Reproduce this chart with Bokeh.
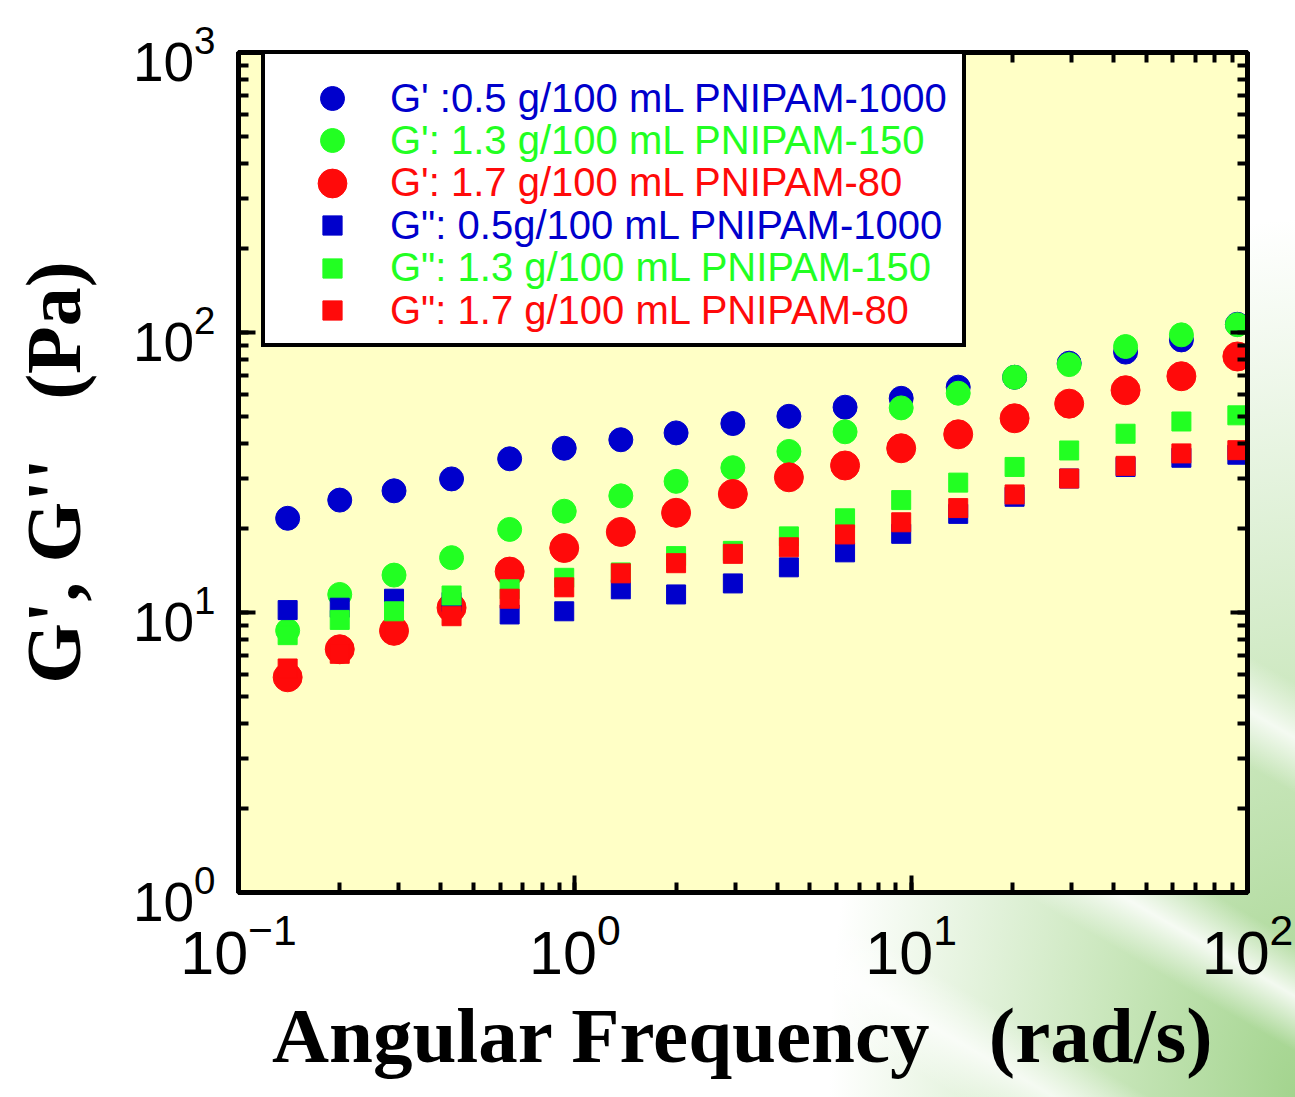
from bokeh.plotting import figure
from bokeh.models import (LogAxis, LogTicker, Legend, LegendItem, InlineStyleSheet,
                          CustomJSTickFormatter, Title)
from bokeh.embed import file_html
from bokeh.resources import INLINE

# Angular frequency (rad/s)
freq = [0.14, 0.20, 0.29, 0.43, 0.64, 0.93, 1.37, 2.0, 2.95, 4.33, 6.36, 9.34,
        13.8, 20.3, 29.5, 43.4, 63.6, 93.3]

# Storage modulus G' (Pa)
gp_1000 = [21.7, 25.2, 27.2, 30.0, 35.4, 38.6, 41.4, 43.8, 47.3, 50.2, 54.1, 58.2,
           63.8, 69.2, 77.7, 85.1, 94.1, 107.0]
gp_150 = [8.62, 11.6, 13.6, 15.7, 19.8, 23.0, 26.1, 29.4, 32.9, 37.6, 44.2, 53.8,
          60.7, 69.2, 76.8, 89.1, 98.1, 106.6]
gp_80 = [5.87, 7.39, 8.60, 10.4, 14.0, 17.0, 19.4, 22.7, 26.5, 30.4, 33.5, 38.6,
         43.3, 49.4, 55.7, 62.2, 69.8, 82.1]

# Loss modulus G'' (Pa)
gpp_1000 = [10.2, 10.4, 11.2, 10.9, 9.84, 10.1, 12.1, 11.6, 12.7, 14.5, 16.4, 19.1,
            22.5, 25.9, 30.1, 33.1, 35.7, 36.6]
gpp_150 = [8.30, 9.41, 10.1, 11.5, 12.1, 13.3, 13.9, 15.9, 16.6, 18.7, 21.7, 25.2,
           29.1, 33.1, 37.9, 43.5, 48.1, 50.6]
gpp_80 = [6.31, 7.12, 8.5, 9.70, 11.2, 12.3, 13.8, 15.0, 16.2, 17.1, 19.0, 21.0,
          23.6, 26.4, 30.1, 33.4, 37.0, 38.0]

labels = [
    "G' :0.5 g/100 mL PNIPAM-1000",
    "G': 1.3 g/100 mL PNIPAM-150",
    "G': 1.7 g/100 mL PNIPAM-80",
    'G": 0.5g/100 mL PNIPAM-1000',
    'G": 1.3 g/100 mL PNIPAM-150',
    'G": 1.7 g/100 mL PNIPAM-80',
]
x_title = "Angular Frequency\u00a0\u00a0\u00a0(rad/s)"
y_title = "G', G''\u00a0\u00a0\u00a0(Pa)"

BLUE = "#0000CC"
GREEN = "#22FF22"
RED = "#FF0A0A"
colors = [BLUE, GREEN, RED, BLUE, GREEN, RED]
markers = ["circle", "circle", "circle", "square", "square", "square"]
sizes = [24, 24, 29, 19, 19, 19]
series = [gp_1000, gp_150, gp_80, gpp_1000, gpp_150, gpp_80]

W, H = 1295, 1097
FL, FR, FT, FB = 238, 1247, 52, 892   # frame edges in canvas pixels

p = figure(width=W, height=H, x_axis_type="log", y_axis_type="log",
           x_range=(0.1, 100), y_range=(1, 1000),
           output_backend="svg", toolbar_location=None,
           min_border_left=FL, min_border_right=W - FR,
           min_border_top=FT, min_border_bottom=H - FB)

p.background_fill_color = "#FFFFC6"
p.border_fill_alpha = 0
p.outline_line_color = "black"
p.outline_line_width = 5
p.xgrid.visible = False
p.ygrid.visible = False

p.stylesheets = [InlineStyleSheet(css=""":host {
  background:
    linear-gradient(30deg, rgba(255,255,255,0) 30%, rgba(255,255,255,0.75) 33%, rgba(255,255,255,0) 36%),
    linear-gradient(30deg, rgba(255,255,255,0) 43%, rgba(255,255,255,0.85) 46%, rgba(255,255,255,0) 49%),
    linear-gradient(30deg, rgba(255,255,255,0) 57%, rgba(255,255,255,0.8) 60%, rgba(255,255,255,0) 63%),
    radial-gradient(ellipse 36% 80% at 100% 100%, #a3d48e 0%, #c8e6ba 40%, rgba(255,255,255,0) 100%),
    #ffffff;
}""")]

renderers = []
for ys, m, s, c in zip(series, markers, sizes, colors):
    renderers.append(p.scatter(freq, ys, marker=m, size=s, color=c))
dummy = p.scatter([], [], marker="circle", size=1, fill_alpha=0, line_alpha=0)

def style_axis(ax, font_size, standoff):
    ax.axis_line_width = 5
    ax.axis_line_color = "black"
    ax.major_tick_in = 17
    ax.major_tick_out = 0
    ax.minor_tick_in = 10
    ax.minor_tick_out = 0
    ax.major_tick_line_width = 4
    ax.minor_tick_line_width = 4
    ax.major_label_text_font = "Liberation Sans"
    ax.major_label_text_font_size = font_size
    ax.major_label_text_color = "black"
    ax.major_label_standoff = standoff

xa = p.xaxis[0]
ya = p.yaxis[0]
xa.ticker = LogTicker(mantissas=[1], num_minor_ticks=10)
ya.ticker = LogTicker(mantissas=[1], num_minor_ticks=10)
style_axis(xa, "61px", 20)
style_axis(ya, "55px", 23)

ya.axis_label = y_title
ya.axis_label_text_font = "Liberation Serif"
ya.axis_label_text_font_style = "bold"
ya.axis_label_text_font_size = "78px"
ya.axis_label_text_color = "black"
ya.axis_label_standoff = 33

# x-axis title as a title panel below the axis (keeps the frame at full height)
xt = Title(text=x_title, align="center", standoff=27,
           text_font="Liberation Serif", text_font_style="bold",
           text_font_size="79px", text_color="black")
p.add_layout(xt, "below")

blank = CustomJSTickFormatter(code="return ''")
for loc in ("above", "right"):
    ax = LogAxis(ticker=LogTicker(mantissas=[1], num_minor_ticks=10), formatter=blank)
    style_axis(ax, "1px", 0)
    p.add_layout(ax, loc)

# Legend frame (white box with black border)
box_left, box_top, box_right, box_bottom = 261, 58, 958, 347
box = Legend(items=[LegendItem(label="\u00a0", renderers=[dummy])],
             location=(box_left - FL, FB - box_bottom))
box.padding = 0
box.margin = 0
box.spacing = 0
box.glyph_width = 10
box.label_standoff = 0
box.label_width = (box_right - box_left) - 10
box.glyph_height = box_bottom - box_top
box.label_height = box_bottom - box_top
box.label_text_font_size = "10px"
box.border_line_color = "black"
box.border_line_alpha = 1
box.border_line_width = 4
box.background_fill_color = "white"
box.background_fill_alpha = 1
p.add_layout(box, "center")

# Legend rows: each with its own label colour
first_row, row_step = 98, 42.4
glyph_cx, text_x = 332, 390
for i, (lab, r, c, s) in enumerate(zip(labels, renderers, colors, sizes)):
    cy = first_row + row_step * i
    g = round(s / 0.4)          # legend glyph box; marker drawn at 0.4 of it
    lg = Legend(items=[LegendItem(label=lab, renderers=[r])],
                location=(glyph_cx - g / 2 - FL, FB - (cy + g / 2)))
    lg.padding = 0
    lg.margin = 0
    lg.spacing = 0
    lg.glyph_width = g
    lg.glyph_height = g
    lg.label_height = g
    lg.label_standoff = int(round(text_x - (glyph_cx + g / 2)))
    lg.label_text_font = "Liberation Sans"
    lg.label_text_font_size = "40px"
    lg.label_text_color = c
    lg.border_line_alpha = 0
    lg.background_fill_alpha = 0
    p.add_layout(lg, "center")

open("out.html", "w").write(file_html(p, INLINE))
